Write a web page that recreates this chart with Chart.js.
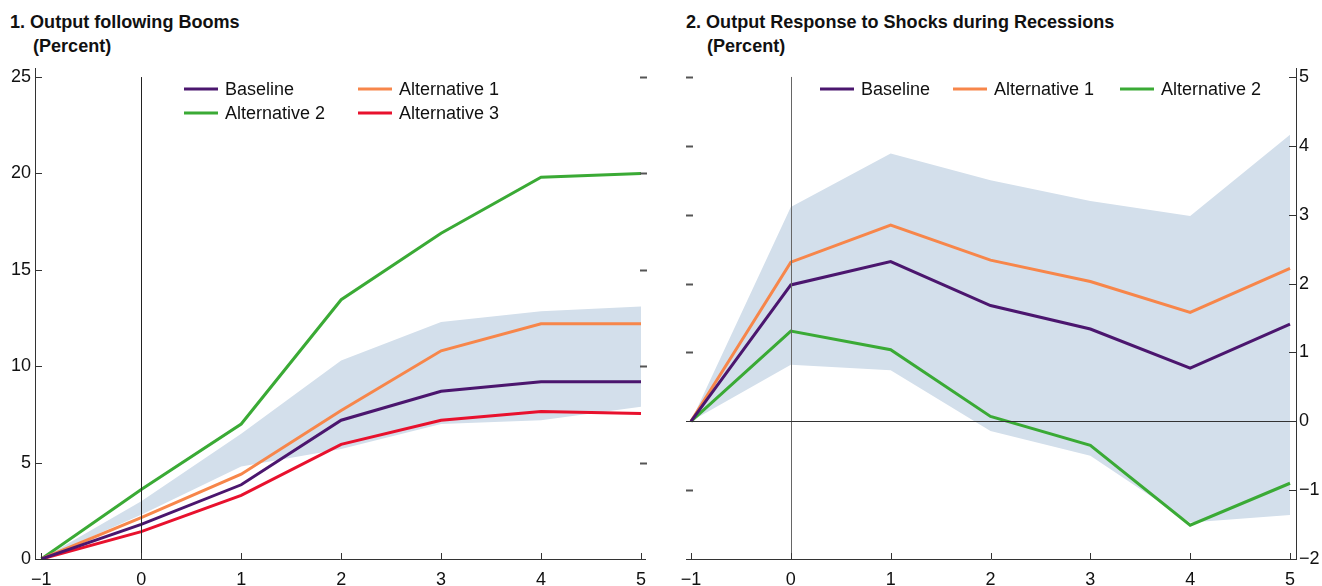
<!DOCTYPE html>
<html>
<head>
<meta charset="utf-8">
<script src="https://cdn.jsdelivr.net/npm/chart.js@4/dist/chart.umd.min.js"></script>
<style>
  body { margin: 0; background: #fff; width: 1322px; height: 586px; position: relative; overflow: hidden; }
  .panel { position: absolute; top: 0; height: 586px; }
  .ttl { position: absolute; font-family: 'Liberation Sans', Arial, sans-serif;
         font-weight: bold; font-size: 19px; color: #111; white-space: nowrap; line-height: 22px;
         transform: scaleX(0.95); transform-origin: left top; }
</style>
</head>
<body>
<div class="ttl" style="left:10px; top:11px;">1. Output following Booms</div>
<div class="ttl" style="left:33px; top:35px;">(Percent)</div>
<div class="ttl" style="left:686px; top:11px;">2. Output Response to Shocks during Recessions</div>
<div class="ttl" style="left:707px; top:35px;">(Percent)</div>
<div class="panel" style="left:0; width:660px;"><canvas id="boom"></canvas></div>
<div class="panel" style="left:660px; width:662px;"><canvas id="rec"></canvas></div>
<script>
// years after the event
var years = [-1, 0, 1, 2, 3, 4, 5];

// panel 1: output following booms
var boomBaseline = [0, 1.8, 3.85, 7.2, 8.7, 9.2, 9.2];
var boomAlt1     = [0, 2.15, 4.4, 7.7, 10.8, 12.2, 12.2];
var boomAlt2     = [0, 3.6, 7.0, 13.45, 16.9, 19.8, 20.0];
var boomAlt3     = [0, 1.42, 3.3, 5.95, 7.2, 7.65, 7.55];
var boomUpper    = [0, 3.0, 6.5, 10.3, 12.3, 12.85, 13.1];
var boomLower    = [0, 2.3, 4.8, 5.7, 7.0, 7.2, 7.9];
var boomTicks    = [0, 5, 10, 15, 20, 25];

// panel 2: output response to shocks during recessions
var recBaseline = [0, 1.98, 2.32, 1.68, 1.34, 0.77, 1.41];
var recAlt1     = [0, 2.31, 2.85, 2.34, 2.03, 1.58, 2.22];
var recAlt2     = [0, 1.31, 1.04, 0.07, -0.35, -1.51, -0.9];
var recUpper    = [0, 3.11, 3.89, 3.5, 3.2, 2.98, 4.16];
var recLower    = [0, 0.82, 0.74, -0.14, -0.5, -1.47, -1.36];
var recTicks    = [-2, -1, 0, 1, 2, 3, 4, 5];

var FONT = "'Liberation Sans', Arial, sans-serif";
var PURPLE = '#4b166e', ORANGE = '#f7864a', GREEN = '#3aaa35', RED = '#e8112d', BAND = '#d3dfeb';

function pts(vals) {
  return years.map(function (x, i) { return { x: x, y: vals[i] }; });
}
function line(label, vals, color) {
  return { label: label, data: pts(vals), borderColor: color, backgroundColor: color,
           borderWidth: 3, pointRadius: 0, tension: 0, fill: false, order: 1 };
}
function band(upper, lower) {
  return [
    { label: 'upper', data: pts(upper), borderWidth: 0, pointRadius: 0, backgroundColor: BAND, fill: '+1', order: 5 },
    { label: 'lower', data: pts(lower), borderWidth: 0, pointRadius: 0, backgroundColor: BAND, fill: false, order: 6 }
  ];
}
function minus(v) { return String(v).replace('-', '\u2212'); }

// axis marks, zero lines and legend
var marks = {
  id: 'marks',
  afterDatasetsDraw: function (chart, args, o) {
    var c = chart.ctx, a = chart.chartArea, x = chart.scales.x, y = chart.scales.y;
    c.save();
    // vertical line at year 0
    c.strokeStyle = o.zeroColor; c.lineWidth = 1;
    var x0 = Math.round(x.getPixelForValue(0)) + 0.5;
    c.beginPath(); c.moveTo(x0, y.getPixelForValue(o.ticks[o.ticks.length - 1])); c.lineTo(x0, a.bottom); c.stroke();
    if (o.hzero) {
      var y0 = Math.round(y.getPixelForValue(0)) + 0.5;
      c.strokeStyle = '#333';
      c.beginPath(); c.moveTo(a.left, y0); c.lineTo(a.right, y0); c.stroke();
    }
    // x ticks (inward)
    c.strokeStyle = '#333';
    years.forEach(function (v) {
      var px = Math.round(x.getPixelForValue(v)) + 0.5;
      c.beginPath(); c.moveTo(px, a.bottom); c.lineTo(px, a.bottom - 6); c.stroke();
    });
    // y ticks on axis side (inward) and short dashes on the other side
    o.ticks.forEach(function (v) {
      var py = Math.round(y.getPixelForValue(v)) + 0.5;
      if (v === o.ticks[0]) return;
      c.strokeStyle = '#333'; c.lineWidth = 1;
      c.beginPath();
      if (o.axisRight) { c.moveTo(a.right, py); c.lineTo(a.right - 7, py); }
      else { c.moveTo(a.left, py); c.lineTo(a.left + 7, py); }
      c.stroke();
      if (o.hzero && v === 0) return;
      c.strokeStyle = '#555'; c.lineWidth = 2;
      c.beginPath();
      if (o.axisRight) { c.moveTo(a.left, py); c.lineTo(a.left + 7, py); }
      else { c.moveTo(a.right - 5, py); c.lineTo(a.right + 2, py); }
      c.stroke();
    });
    // legend
    c.font = '18px ' + FONT; c.textBaseline = 'middle'; c.fillStyle = '#111';
    o.legend.forEach(function (it) {
      var ds = chart.data.datasets[it.i];
      c.strokeStyle = ds.borderColor; c.lineWidth = 3;
      c.beginPath(); c.moveTo(it.x, it.y); c.lineTo(it.x + 34, it.y); c.stroke();
      c.fillText(ds.label, it.x + 41, it.y + 1);
    });
    c.restore();
  }
};

function makeChart(id, datasets, opt) {
  return new Chart(document.getElementById(id), {
    type: 'line',
    data: { datasets: datasets },
    plugins: [marks],
    options: {
      responsive: true, maintainAspectRatio: false, animation: false,
      layout: { padding: opt.padding },
      plugins: { legend: { display: false }, tooltip: { enabled: false }, marks: opt.marks },
      scales: {
        x: {
          type: 'linear', min: opt.xmin, max: opt.xmax,
          grid: { display: false },
          border: { display: true, color: '#333', width: 1 },
          afterBuildTicks: function (s) { s.ticks = years.map(function (v) { return { value: v }; }); },
          afterFit: function (s) { s.height = 27; },
          ticks: { color: '#111', font: { family: FONT, size: 18 }, padding: 2, maxRotation: 0,
                   callback: function (v) { return minus(v); } }
        },
        y: {
          type: 'linear', position: opt.yPos, min: opt.ymin, max: opt.ymax,
          grid: { display: false, drawTicks: false },
          border: { display: true, color: '#333', width: 1 },
          afterBuildTicks: function (s) { s.ticks = opt.marks.ticks.map(function (v) { return { value: v }; }); },
          afterFit: function (s) { s.width = opt.yWidth; },
          ticks: { color: '#111', font: { family: FONT, size: 18 }, padding: opt.yPad,
                   callback: function (v) { return minus(v); } }
        }
      }
    }
  });
}

makeChart('boom', [
  line('Baseline', boomBaseline, PURPLE),
  line('Alternative 1', boomAlt1, ORANGE),
  line('Alternative 2', boomAlt2, GREEN),
  line('Alternative 3', boomAlt3, RED)
].concat(band(boomUpper, boomLower)), {
  padding: { top: 68, right: 15, left: 0, bottom: 0 },
  xmin: -1.063, xmax: 5.04, ymin: 0, ymax: 25.47, yPos: 'left', yWidth: 35, yPad: 4,
  marks: { ticks: boomTicks, axisRight: false, hzero: false, zeroColor: '#222',
           legend: [{ i: 0, x: 184, y: 89 }, { i: 1, x: 358, y: 89 }, { i: 2, x: 184, y: 113 }, { i: 3, x: 358, y: 113 }] }
});

makeChart('rec', [
  line('Baseline', recBaseline, PURPLE),
  line('Alternative 1', recAlt1, ORANGE),
  line('Alternative 2', recAlt2, GREEN)
].concat(band(recUpper, recLower)), {
  padding: { top: 68, right: 0, left: 26, bottom: 0 },
  xmin: -1.05, xmax: 5.06, ymin: -2, ymax: 5.13, yPos: 'right', yWidth: 26, yPad: 3,
  marks: { ticks: recTicks, axisRight: true, hzero: true, zeroColor: '#666',
           legend: [{ i: 0, x: 820, y: 89 }, { i: 1, x: 953, y: 89 }, { i: 2, x: 1120, y: 89 }].map(function (l) { return { i: l.i, x: l.x - 660, y: l.y }; }) }
});
</script>
</body>
</html>
